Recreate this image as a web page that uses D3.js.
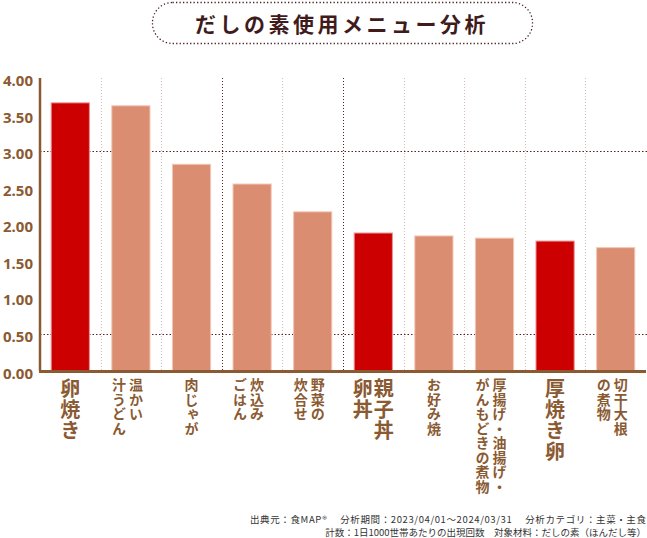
<!DOCTYPE html>
<html>
<head>
<meta charset="utf-8">
<script src="https://cdn.jsdelivr.net/npm/d3@7"></script>
<style>
  body { margin: 0; background: #fff; }
  svg { display: block; font-family: "Noto Sans CJK JP", "Noto Sans", sans-serif; }
</style>
</head>
<body>
<div id="chart"></div>
<script>
// label columns are listed right-to-left (vertical Japanese)
const labelColumns = [
  ["卵焼き"],
  ["温かい", "汁うどん"],
  ["肉じゃが"],
  ["炊込み", "ごはん"],
  ["野菜の", "炊合せ"],
  ["親子丼", "卵丼"],
  ["お好み焼"],
  ["厚揚げ・油揚げ・", "がんもどきの煮物"],
  ["厚焼き卵"],
  ["切干大根", "の煮物"]
];
const values = [3.66, 3.62, 2.82, 2.55, 2.17, 1.88, 1.84, 1.81, 1.77, 1.68];
const highlighted = [true, false, false, false, false, true, false, false, true, false];
const yTicks = [0, 0.5, 1, 1.5, 2, 2.5, 3, 3.5, 4];
const gridValues = [3, 0.5];
const titleText = "だしの素使用メニュー分析";
const footerLines = [
  "出典元：食MAP®　 分析期間：2023/04/01～2024/03/31　 分析カテゴリ：主菜・主食",
  "計数：1日1000世帯あたりの出現回数　対象材料：だしの素（ほんだし等）"
];

const width = 647;
const height = 538;
const margin = { top: 78, right: 1, bottom: 167, left: 40 };
const brown = "#8a5a32";

const svg = d3.select("#chart").append("svg")
  .attr("width", width)
  .attr("height", height);

// title box
svg.append("rect")
  .attr("x", 152.5)
  .attr("y", 2.5)
  .attr("width", 380)
  .attr("height", 41)
  .attr("rx", 20)
  .attr("fill", "none")
  .attr("stroke", "#4a2222")
  .attr("stroke-width", 1.3)
  .attr("stroke-dasharray", "1.3,2.2");

svg.append("text")
  .attr("x", 342)
  .attr("y", 32)
  .attr("text-anchor", "middle")
  .attr("fill", "#3f1b1b")
  .style("font-size", "21px")
  .style("font-weight", "700")
  .style("letter-spacing", "3.5px")
  .text(titleText);

const x = d3.scaleBand()
  .domain(d3.range(values.length))
  .range([margin.left, width - margin.right])
  .paddingInner(0.37)
  .paddingOuter(0.185);

const y = d3.scaleLinear()
  .domain([0, 4])
  .range([height - margin.bottom - 0.5, margin.top]);

// vertical dotted separators
const seps = d3.range(1, values.length).map(i => margin.left + i * x.step());
svg.append("g").selectAll("line")
  .data(seps)
  .join("line")
  .attr("x1", d => Math.round(d) + 0.5)
  .attr("x2", d => Math.round(d) + 0.5)
  .attr("y1", margin.top)
  .attr("y2", y(0))
  .attr("stroke", (d, i) => (i === 2 || i === 4) ? "#5a1f1f" : "#d2bcbc")
  .attr("stroke-width", 1)
  .attr("stroke-dasharray", "1,2");

// horizontal dotted lines
svg.append("g").selectAll("line")
  .data(gridValues)
  .join("line")
  .attr("x1", margin.left)
  .attr("x2", width)
  .attr("y1", d => Math.round(y(d)) + 0.5)
  .attr("y2", d => Math.round(y(d)) + 0.5)
  .attr("stroke", "#5a1f1f")
  .attr("stroke-width", 1)
  .attr("stroke-dasharray", "1.5,2");

// bars
svg.append("g").selectAll("rect")
  .data(values)
  .join("rect")
  .attr("x", (d, i) => x(i))
  .attr("width", x.bandwidth())
  .attr("y", d => y(d))
  .attr("height", d => y(0) - y(d))
  .attr("fill", (d, i) => highlighted[i] ? "#cc0000" : "#da8d70")
  .attr("stroke", (d, i) => highlighted[i] ? "#ef8f8f" : "#f3c6b4")
  .attr("stroke-width", 1);

// y axis
const yAxis = svg.append("g")
  .attr("transform", `translate(${margin.left},0)`)
  .call(d3.axisLeft(y).tickValues(yTicks).tickFormat(d3.format(".2f")).tickSize(0).tickPadding(7));
yAxis.select(".domain").remove();
yAxis.selectAll("text")
  .attr("dy", "0.5em")
  .attr("fill", brown)
  .style("font-family", "'Noto Sans', sans-serif")
  .style("font-size", "15px")
  .style("font-weight", "700");

svg.append("line")
  .attr("x1", margin.left)
  .attr("x2", margin.left)
  .attr("y1", margin.top)
  .attr("y2", y(0))
  .attr("stroke", brown)
  .attr("stroke-width", 2.5);

svg.append("line")
  .attr("x1", margin.left - 1)
  .attr("x2", width - 1)
  .attr("y1", y(0) + 1)
  .attr("y2", y(0) + 1)
  .attr("stroke", brown)
  .attr("stroke-width", 3);

// vertical category labels
labelColumns.forEach((cols, i) => {
  const cx = x(i) + x.bandwidth() / 2;
  const big = highlighted[i];
  const size = big ? 20 : 14;
  const gap = big ? 21 : 17;
  const start = cols.length === 1 ? 0 : (big ? gap / 2 : 5);
  cols.forEach((col, j) => {
    svg.append("text")
      .attr("x", cx + start - j * gap)
      .attr("y", 378)
      .attr("fill", brown)
      .style("writing-mode", "vertical-rl")
      .style("font-size", size + "px")
      .style("font-weight", "700")
      .style("letter-spacing", big ? "1px" : "0.5px")
      .text(col);
  });
});

// footer
footerLines.forEach((line, i) => {
  const t = svg.append("text")
    .attr("x", 646)
    .attr("y", 523 + i * 13)
    .attr("text-anchor", "end")
    .attr("fill", "#333")
    .style("font-size", "9.5px")
    .text(line);
  if (i === 0) t.attr("textLength", 396).attr("lengthAdjust", "spacing");
});
</script>
</body>
</html>
